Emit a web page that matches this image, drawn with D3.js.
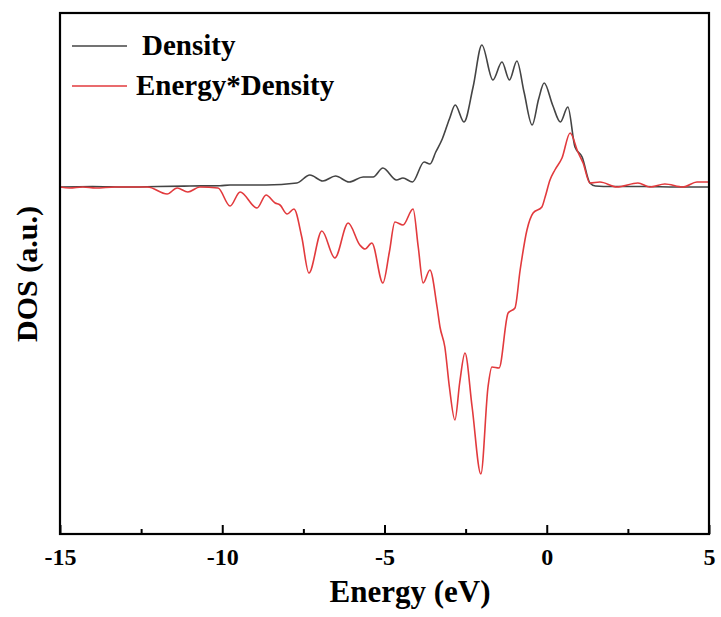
<!DOCTYPE html>
<html>
<head>
<meta charset="utf-8">
<script src="https://cdn.jsdelivr.net/npm/d3@7"></script>
<style>
  body { margin: 0; background: #fff; }
  text { font-family: "Liberation Serif", "Times New Roman", serif; font-weight: bold; }
</style>
</head>
<body>
<div id="chart"></div>
<script>
// energy (eV) and DOS (a.u.)
const densityE = [-15, -14, -13, -12, -11, -10.07, -9.76, -8.65, -7.7, -7.3, -6.9, -6.51, -6.09, -5.66, -5.35, -5.05,
                  -4.63, -4.43, -4.14, -3.78, -3.6, -3.42, -3.22, -3.0, -2.82, -2.55, -2.27, -2.0, -1.66, -1.38, -1.15,
                  -0.92, -0.7, -0.45, -0.25, -0.08, 0.18, 0.42, 0.65, 0.87, 1.09, 1.33, 1.5, 2, 3, 4, 5];
const densityV = [0, 0.005, 0, 0.005, 0.01, 0.013, 0.02, 0.02, 0.04, 0.12, 0.06, 0.11, 0.05, 0.10, 0.10, 0.19,
                  0.07, 0.09, 0.05, 0.25, 0.23, 0.35, 0.48, 0.68, 0.82, 0.65, 1.0, 1.42, 1.07, 1.25, 1.07,
                  1.26, 0.95, 0.62, 0.88, 1.04, 0.82, 0.65, 0.80, 0.40, 0.30, 0.04, 0.01, 0.005, 0.005, 0, 0];

const edosE = [-15, -14.7, -14.3, -13.9, -13.3, -12.3, -11.7, -11.39, -11.06, -10.69, -10.13, -9.76, -9.45, -8.93,
               -8.65, -8.37, -8.22, -8.0, -7.79, -7.55, -7.33, -6.93, -6.53, -6.12, -5.76, -5.6, -5.39, -5.05, -4.85,
               -4.68, -4.43, -4.12, -3.96, -3.81, -3.6, -3.38, -3.29, -3.14, -3.0, -2.83, -2.68, -2.52, -2.3, -2.03,
               -1.81, -1.69, -1.47, -1.19, -0.98, -0.82, -0.61, -0.42, -0.15, -0.05, 0.1, 0.25, 0.47, 0.72, 0.96,
               1.12, 1.33, 1.64, 2.16, 2.81, 3.18, 3.64, 4.2, 4.63, 5];
const edosV = [0, -0.01, 0, -0.01, 0, 0, -0.07, -0.01, -0.05, 0, -0.01, -0.19, -0.05, -0.21,
               -0.08, -0.16, -0.18, -0.27, -0.22, -0.5, -0.86, -0.44, -0.71, -0.36, -0.58, -0.62, -0.56, -0.96, -0.65,
               -0.35, -0.38, -0.22, -0.6, -0.96, -0.83, -1.2, -1.4, -1.6, -2.0, -2.33, -1.95, -1.66, -2.2, -2.87,
               -2.0, -1.8, -1.81, -1.26, -1.21, -0.83, -0.43, -0.26, -0.2, -0.1, 0.07, 0.17, 0.29, 0.54, 0.35,
               0.24, 0.04, 0.05, 0, 0.04, 0, 0.03, 0, 0.05, 0.05];

const xTicks = [-15, -10, -5, 0, 5];
const xMinorTicks = [-12.5, -7.5, -2.5, 2.5];
const seriesNames = ['Density', 'Energy*Density'];
const seriesColors = ['#444444', '#e23a3d'];

let margin = {top: 13, right: 12, bottom: 83, left: 60};
let width = 721 - margin.left - margin.right;
let height = 617 - margin.top - margin.bottom;

let svg = d3.select('#chart')
            .append('svg')
                .attr('width', 721)
                .attr('height', 617)
            .append('g')
                .attr('transform', `translate(${margin.left},${margin.top})`);

let xScale = d3.scaleLinear().domain([-15, 5]).range([0, width]);
let yScale = d3.scaleLinear().domain([-3.47, 1.74]).range([height, 0]);

const makeSeries = (es, vs) => es.map((e, i) => ({e: e, v: vs[i]}));
const series = [makeSeries(densityE, densityV), makeSeries(edosE, edosV)];

let line = d3.line()
             .x(d => xScale(d.e))
             .y(d => yScale(d.v))
             .curve(d3.curveMonotoneX);

series.forEach((s, i) => {
    svg.append('path')
        .datum(s)
        .attr('fill', 'none')
        .attr('stroke', seriesColors[i])
        .attr('stroke-width', 1.6)
        .attr('d', line);
});

// frame
svg.append('rect')
    .attr('width', width)
    .attr('height', height)
    .attr('fill', 'none')
    .attr('stroke', '#000')
    .attr('stroke-width', 2.2);

// Eixo X, ticks pointing inside
let xAxis = d3.axisBottom(xScale)
              .tickValues(xTicks)
              .tickSize(-9)
              .tickPadding(14)
              .tickFormat(d => String(d));

let gx = svg.append('g')
    .attr('transform', `translate(0,${height})`)
    .call(xAxis);
gx.select('.domain').remove();
gx.selectAll('line').attr('stroke', '#000').attr('stroke-width', 2);
gx.selectAll('text')
    .attr('fill', '#000')
    .attr('font-size', '24px')
    .attr('font-family', '"Liberation Serif", serif')
    .attr('font-weight', 'bold');

svg.append('g')
    .attr('transform', `translate(0,${height})`)
    .call(d3.axisBottom(xScale).tickValues(xMinorTicks).tickSize(-5).tickFormat(''))
    .call(g => g.select('.domain').remove())
    .selectAll('line').attr('stroke', '#000').attr('stroke-width', 2);

svg.append('text')
    .attr('x', 350)
    .attr('y', height + 68)
    .style('text-anchor', 'middle')
    .attr('font-size', '31px')
    .text('Energy (eV)');

// Eixo Y
svg.append('text')
    .attr('transform', 'rotate(-90)')
    .attr('x', -(yScale(0) + 87))
    .attr('y', -23)
    .style('text-anchor', 'middle')
    .attr('font-size', '30px')
    .text('DOS (a.u.)');

// legenda
let legendY = [33, 73];
let legendTextX = [82, 76];
seriesNames.forEach((name, i) => {
    svg.append('line')
        .attr('x1', 12).attr('x2', 67)
        .attr('y1', legendY[i]).attr('y2', legendY[i])
        .attr('stroke', seriesColors[i])
        .attr('stroke-width', 1.6);
    svg.append('text')
        .attr('x', legendTextX[i])
        .attr('y', legendY[i] + 9)
        .attr('font-size', '29px')
        .text(name);
});
</script>
</body>
</html>
